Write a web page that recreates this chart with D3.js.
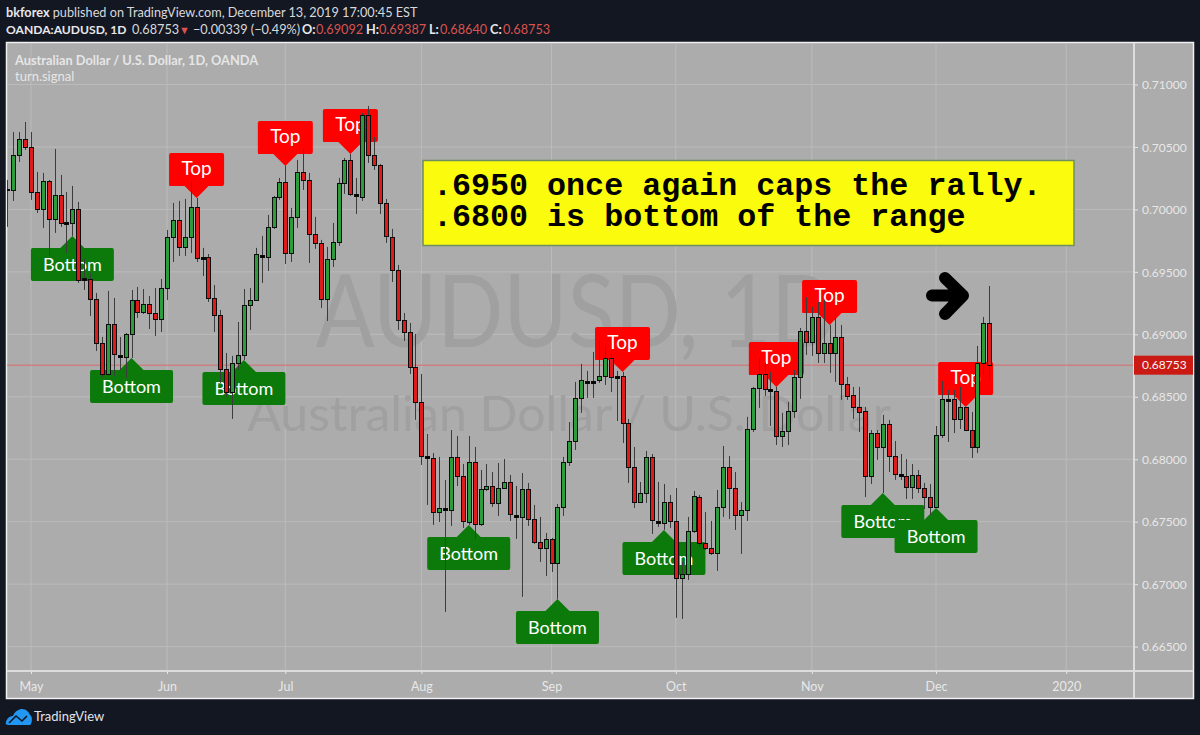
<!DOCTYPE html>
<html><head><meta charset="utf-8">
<script src="https://cdn.jsdelivr.net/npm/d3@7/dist/d3.min.js"></script>
<style>html,body{margin:0;padding:0;background:#131722;overflow:hidden}svg{display:block}text{font-family:Lato,"Open Sans",sans-serif}</style>
</head><body><div id="c"></div>
<script>
const opens=[.70160,.70156,.70436,.70564,.70500,.70140,.70004,.70228,.69924,.70116,
.69900,.69892,.70004,.69451,.69443,.69283,.68931,.68683,.69083,.68835,
.68819,.69003,.69275,.69179,.69243,.69171,.69123,.69371,.69780,.69916,
.69700,.69780,.70020,.69619,.69619,.69291,.69155,.68723,.68539,.68771,
.68835,.69235,.69275,.69635,.69619,.69860,.70100,.70220,.69651,.69940,
.70300,.70236,.69804,.69732,.69283,.69603,.69740,.70212,.70396,.70124,
.70100,.70756,.70436,.70356,.70052,.69780,.69515,.69115,.69019,.68739,
.68459,.68026,.68010,.67578,.67610,.67594,.68018,.67866,.67498,.67978,
.67482,.67762,.67786,.67650,.67770,.67818,.67554,.67538,.67762,.67522,
.67338,.67290,.67362,.67170,.67618,.67978,.68146,.68491,.68627,.68627,
.68635,.68667,.68811,.68667,.68667,.68290,.67938,.67658,.67730,.68018,
.67506,.67490,.67658,.67506,.67050,.67082,.67426,.67698,.67330,.67290,
.67250,.67618,.67938,.67770,.67554,.67594,.68242,.68571,.68683,.68563,
.68547,.68186,.68226,.68387,.68659,.69027,.68939,.69139,.68851,.68931,
.68851,.68979,.68603,.68515,.68419,.68387,.67866,.68210,.68098,.68282,
.68026,.67882,.67866,.67778,.67874,.67770,.67698,.67618,.68194,.68483,
.68483,.68323,.68419,.68234,.68098,.68771,.69092];
const highs=[.70236,.70620,.70620,.70700,.70620,.70300,.70292,.70236,.70484,.70276,
.70140,.70188,.70060,.69603,.69491,.69331,.68979,.69347,.69291,.68979,
.69011,.69355,.69379,.69363,.69307,.69371,.69443,.69836,.70052,.70068,
.70084,.70228,.70092,.69692,.69643,.69395,.69195,.68851,.68827,.69099,
.69363,.69371,.69692,.69788,.69956,.70108,.70252,.70348,.70012,.70396,
.70484,.70292,.69940,.69756,.69700,.69892,.70252,.70412,.70444,.70252,
.70772,.70828,.70580,.70364,.70084,.69844,.69555,.69171,.69091,.69003,
.68683,.68202,.68050,.68018,.67834,.68234,.68186,.67962,.68186,.68098,
.67914,.67962,.67898,.67970,.68002,.67874,.67786,.67890,.67810,.67634,
.67538,.67410,.67370,.67642,.68018,.68298,.68619,.68763,.68707,.68859,
.68955,.68915,.68843,.68707,.68699,.68323,.68098,.67818,.68066,.68042,
.67818,.67802,.67714,.67770,.67178,.67538,.67746,.67714,.67578,.67506,
.67754,.68106,.68026,.67898,.67658,.68339,.68579,.68811,.68771,.68699,
.68579,.68371,.68459,.68715,.69051,.69299,.69219,.69259,.69275,.69075,
.69131,.69075,.68659,.68579,.68579,.68419,.68234,.68234,.68355,.68315,
.68146,.68042,.68002,.67962,.67914,.67810,.67802,.68266,.68627,.68555,
.68555,.68579,.68419,.68379,.68907,.69139,.69387];
const lows=[.69860,.70068,.70380,.70476,.70076,.69972,.69852,.69627,.69812,.69860,
.69651,.69788,.69411,.69355,.69147,.68867,.68659,.68675,.68667,.68715,
.68651,.68811,.69131,.69163,.69043,.68987,.69019,.69275,.69579,.69627,
.69627,.69651,.69579,.69467,.69259,.69019,.68611,.68499,.68323,.68715,
.68795,.69035,.69267,.69411,.69507,.69844,.70076,.69563,.69579,.69852,
.70156,.69571,.69684,.69211,.69107,.69539,.69708,.70124,.70108,.69964,
.70068,.70372,.70316,.69964,.69732,.69419,.69035,.68947,.68683,.68315,
.67954,.67634,.67474,.67498,.66778,.67466,.67786,.67450,.67474,.67362,
.67466,.67746,.67618,.67546,.67762,.67506,.67362,.66898,.67466,.67322,
.67178,.67066,.67098,.66882,.67546,.67946,.68074,.68371,.68491,.68491,
.68611,.68595,.68539,.68306,.68130,.67810,.67610,.67650,.67650,.67402,
.67458,.67434,.67450,.66730,.66722,.67034,.67410,.67298,.67274,.67234,
.67106,.67538,.67522,.67434,.67242,.67506,.68218,.68411,.68507,.68266,
.68114,.68098,.68114,.68331,.68483,.68835,.68827,.68771,.68771,.68691,
.68619,.68475,.68475,.68323,.68218,.67698,.67802,.67994,.67730,.67898,
.67834,.67834,.67682,.67682,.67730,.67602,.67554,.67610,.68170,.68138,
.68210,.68242,.68226,.68010,.68050,.68675,.68640];
const closes=[.70152,.70436,.70564,.70500,.70140,.70004,.70228,.69924,.70116,.69892,
.69884,.70004,.69435,.69435,.69283,.68931,.68683,.69083,.68843,.68819,
.69003,.69275,.69179,.69243,.69171,.69123,.69371,.69780,.69916,.69700,
.69780,.70020,.69611,.69603,.69291,.69155,.68723,.68539,.68771,.68835,
.69235,.69275,.69643,.69619,.69860,.70100,.70220,.69651,.69940,.70300,
.70236,.69804,.69732,.69283,.69603,.69740,.70212,.70396,.70124,.70108,
.70756,.70436,.70356,.70052,.69788,.69515,.69115,.69019,.68739,.68459,
.68026,.68010,.67578,.67610,.67594,.68018,.67866,.67506,.67978,.67482,
.67762,.67786,.67650,.67770,.67818,.67562,.67538,.67762,.67522,.67338,
.67290,.67362,.67170,.67618,.67978,.68146,.68491,.68635,.68611,.68611,
.68667,.68811,.68659,.68651,.68290,.67938,.67658,.67730,.68018,.67514,
.67490,.67658,.67506,.67050,.67082,.67426,.67706,.67330,.67290,.67250,
.67618,.67938,.67770,.67554,.67594,.68242,.68571,.68683,.68563,.68547,
.68186,.68226,.68387,.68659,.69027,.68939,.69139,.68851,.68931,.68851,
.68979,.68603,.68507,.68419,.68379,.67866,.68210,.68098,.68282,.68026,
.67882,.67866,.67778,.67874,.67770,.67698,.67618,.68194,.68483,.68467,
.68323,.68419,.68234,.68098,.68771,.69091,.68753];
const priceTicks=[.71,.705,.70,.695,.69,.685,.68,.675,.67,.665];
const monthIdx=[4,27,47,70,92,113,136,157,179];
const monthLabels=["May","Jun","Jul","Aug","Sep","Oct","Nov","Dec","2020"];
const topIdx=[32,47,58,104,130,139,162];
const bottomIdx=[11,21,40,78,93,111,148,157];
const lastPrice=.68753;

const W=1200,H=735;
const pane={l:7,r:1134,t:44,b:671};
const x=d3.scaleLinear().domain([0,166]).range([7.3,989.3]);
const y=d3.scaleLinear().domain([.71,.665]).range([84.5,646.6]);
const svg=d3.select("#c").append("svg").attr("width",W).attr("height",H);
svg.append("rect").attr("width",W).attr("height",H).attr("fill","#131722");
svg.append("rect").attr("x",6.5).attr("y",42.5).attr("width",1187).attr("height",656)
  .attr("fill","#acacac").attr("stroke","#f0f0f0").attr("stroke-width",1.5);
svg.append("defs").append("clipPath").attr("id","p").append("rect")
  .attr("x",pane.l).attr("y",pane.t).attr("width",pane.r-pane.l).attr("height",pane.b-pane.t);

const plot=svg.append("g").attr("clip-path","url(#p)");
// grid
plot.append("g").selectAll("line").data(monthIdx).join("line")
  .attr("x1",d=>x(d)).attr("x2",d=>x(d)).attr("y1",pane.t).attr("y2",pane.b).attr("stroke","#bbbbbb");
plot.append("g").selectAll("line").data(priceTicks).join("line")
  .attr("x1",pane.l).attr("x2",pane.r).attr("y1",d=>y(d)).attr("y2",d=>y(d)).attr("stroke","#bbbbbb");
// watermark
plot.append("text").attr("transform","translate(576.5,347) scale(.87,1)").attr("text-anchor","middle").attr("font-size",100)
  .attr("fill","#a0a0a0").text("AUDUSD, 1D");
plot.append("text").attr("transform","translate(569,431) scale(1.03,1)").attr("text-anchor","middle").attr("font-size",48.5)
  .attr("fill","#a0a0a0").text("Australian Dollar / U.S. Dollar");
// chart titles
plot.append("text").attr("x",15).attr("y",64.5).attr("font-size",12.8).attr("font-weight",700).attr("fill","#e6e6e6")
  .text("Australian Dollar / U.S. Dollar, 1D, OANDA");
plot.append("text").attr("x",15).attr("y",81).attr("font-size",13).attr("fill","#e6e6e6").text("turn.signal");
// last price line
plot.append("line").attr("x1",pane.l).attr("x2",pane.r).attr("y1",y(lastPrice)).attr("y2",y(lastPrice))
  .attr("stroke","#dc6a6a").attr("stroke-width",1);
// markers
const mTop=plot.append("g").selectAll("g").data(topIdx).join("g")
  .attr("transform",d=>`translate(${x(d)},${y(highs[d])})`);
mTop.append("path").attr("d","M0 0L-12 -12L-27 -12Q-27.5 -12 -27.5 -14L-27.5 -43Q-27.5 -45 -25.5 -45L25.5 -45Q27.5 -45 27.5 -43L27.5 -14Q27.5 -12 25.5 -12L12 -12Z").attr("fill","#ff0000");
mTop.append("text").attr("y",-23).attr("text-anchor","middle").attr("font-size",19).attr("fill","#fff").text("Top");
const mBot=plot.append("g").selectAll("g").data(bottomIdx).join("g")
  .attr("transform",d=>`translate(${x(d)},${y(lows[d])})`);
mBot.append("path").attr("d","M0 0L12 12L39.5 12Q41.5 12 41.5 14L41.5 43Q41.5 45 39.5 45L-39.5 45Q-41.5 45 -41.5 43L-41.5 14Q-41.5 12 -39.5 12L-12 12Z").attr("fill","#0b7a0b");
mBot.append("text").attr("y",35).attr("text-anchor","middle").attr("font-size",18).attr("fill","#fff").text("Bottom");
// candles
const idx=d3.range(opens.length);
const isDoji=i=>Math.abs(opens[i]-closes[i])<.0002;
plot.append("g").selectAll("line").data(idx).join("line")
  .attr("x1",i=>Math.round(x(i))+.5).attr("x2",i=>Math.round(x(i))+.5)
  .attr("y1",i=>y(highs[i])).attr("y2",i=>y(lows[i])).attr("stroke","#3c3c3c").attr("stroke-width",1);
plot.append("g").selectAll("rect").data(idx).join("rect")
  .attr("x",i=>Math.round(x(i))-1.5).attr("width",4)
  .attr("y",i=>Math.round(y(Math.max(opens[i],closes[i])))+.5)
  .attr("height",i=>Math.max(1,Math.round(y(Math.min(opens[i],closes[i]))-y(Math.max(opens[i],closes[i])))))
  .attr("fill",i=>isDoji(i)?"#000":closes[i]>opens[i]?"#2d9c3c":"#e01b1b")
  .attr("stroke","#0c0c0c").attr("stroke-width",1);
// annotation box
svg.append("rect").attr("x",423).attr("y",160.5).attr("width",651).attr("height",85)
  .attr("fill","#fbfb0e").attr("stroke","#6f8f5f").attr("stroke-width",1.5);
const note=svg.append("g").attr("font-weight",700).attr("fill","#000");
note.append("text").attr("x",433).attr("y",195).style("font-family","'Liberation Mono',monospace").attr("font-size",31.7).text(".6950 once again caps the rally.");
note.append("text").attr("x",433).attr("y",226).style("font-family","'Liberation Mono',monospace").attr("font-size",31.7).text(".6800 is bottom of the range");
// arrow
svg.append("path").attr("d","M932 295.5L963 295.5M945 278L963 295.5L945 314").attr("fill","none")
  .attr("stroke","#000").attr("stroke-width",12).attr("stroke-linecap","round").attr("stroke-linejoin","round");
// axes
const axC="#e8e8e8";
const yAxis=svg.append("g").attr("transform",`translate(${pane.r},0)`)
  .call(d3.axisRight(y).tickValues(priceTicks).tickFormat(d3.format(".5f")).tickSize(4).tickPadding(4));
yAxis.select(".domain").remove();
yAxis.selectAll("line").attr("stroke",axC);
yAxis.selectAll("text").attr("fill",axC).attr("font-size",12).attr("dy",".35em");
const xAxis=svg.append("g").attr("transform",`translate(0,${pane.b})`)
  .call(d3.axisBottom(x).tickValues(monthIdx).tickFormat((d,i)=>monthLabels[i]).tickSize(3).tickPadding(8));
xAxis.select(".domain").remove();
xAxis.selectAll("line").attr("stroke",axC);
xAxis.selectAll("text").attr("fill",axC).attr("font-size",12.5);
svg.append("line").attr("x1",7).attr("x2",1193).attr("y1",pane.b).attr("y2",pane.b).attr("stroke","#dcdcdc").attr("stroke-width",2);
svg.append("line").attr("x1",pane.r).attr("x2",pane.r).attr("y1",43).attr("y2",698).attr("stroke","#dcdcdc").attr("stroke-width",2);
// price label
svg.append("rect").attr("x",pane.r).attr("y",y(lastPrice)-9.5).attr("width",59).attr("height",19).attr("fill","#cb1a14");
svg.append("text").attr("x",1142).attr("y",y(lastPrice)+4).attr("font-size",12).attr("fill","#f4f4f4").text(d3.format(".5f")(lastPrice));
// header
const h1=svg.append("text").attr("x",6).attr("y",17).attr("font-size",12.7).attr("fill","#d8d9dc");
h1.append("tspan").attr("font-weight",700).attr("fill","#e8e8ea").text("bkforex");
h1.append("tspan").text(" published on TradingView.com, December 13, 2019 17:00:45 EST");
const hdr=[["OANDA:AUDUSD, 1D",6,"#e8e8ea",700,12.1],["0.68753",132,"#d8d9dc",400,12.7],["▼",179,"#d9534f",400,11],["−0.00339 (−0.49%)",193,"#d8d9dc",400,12.7],
["O:",302,"#e8e8ea",700,12.7],["0.69092",316,"#d9534f",400,12.7],["H:",366,"#e8e8ea",700,12.7],["0.69387",379,"#d9534f",400,12.7],
["L:",429,"#e8e8ea",700,12.7],["0.68640",440,"#d9534f",400,12.7],["C:",490,"#e8e8ea",700,12.7],["0.68753",503,"#d9534f",400,12.7]];
svg.append("g").selectAll("text").data(hdr).join("text").attr("x",d=>d[1]).attr("y",34).attr("fill",d=>d[2])
  .attr("font-weight",d=>d[3]).attr("font-size",d=>d[4]).text(d=>d[0]);
// logo
const logo=svg.append("g").attr("transform","translate(6,708)");
logo.append("path").attr("d","M0 14C1 10 4 8 7 8C9 3 13 1 16 1C20 1 23 4 24 7C27 8 26 17 24 17L3 17C0 17 -1 16 0 14Z").attr("fill","#2196f3");
logo.append("path").attr("d","M3 15L10 8L16 13L21 8").attr("fill","none").attr("stroke","#131722").attr("stroke-width",1.6);
svg.append("text").attr("x",34).attr("y",721).attr("font-size",13).attr("fill","#e0e3eb").text("TradingView");
</script></body></html>
